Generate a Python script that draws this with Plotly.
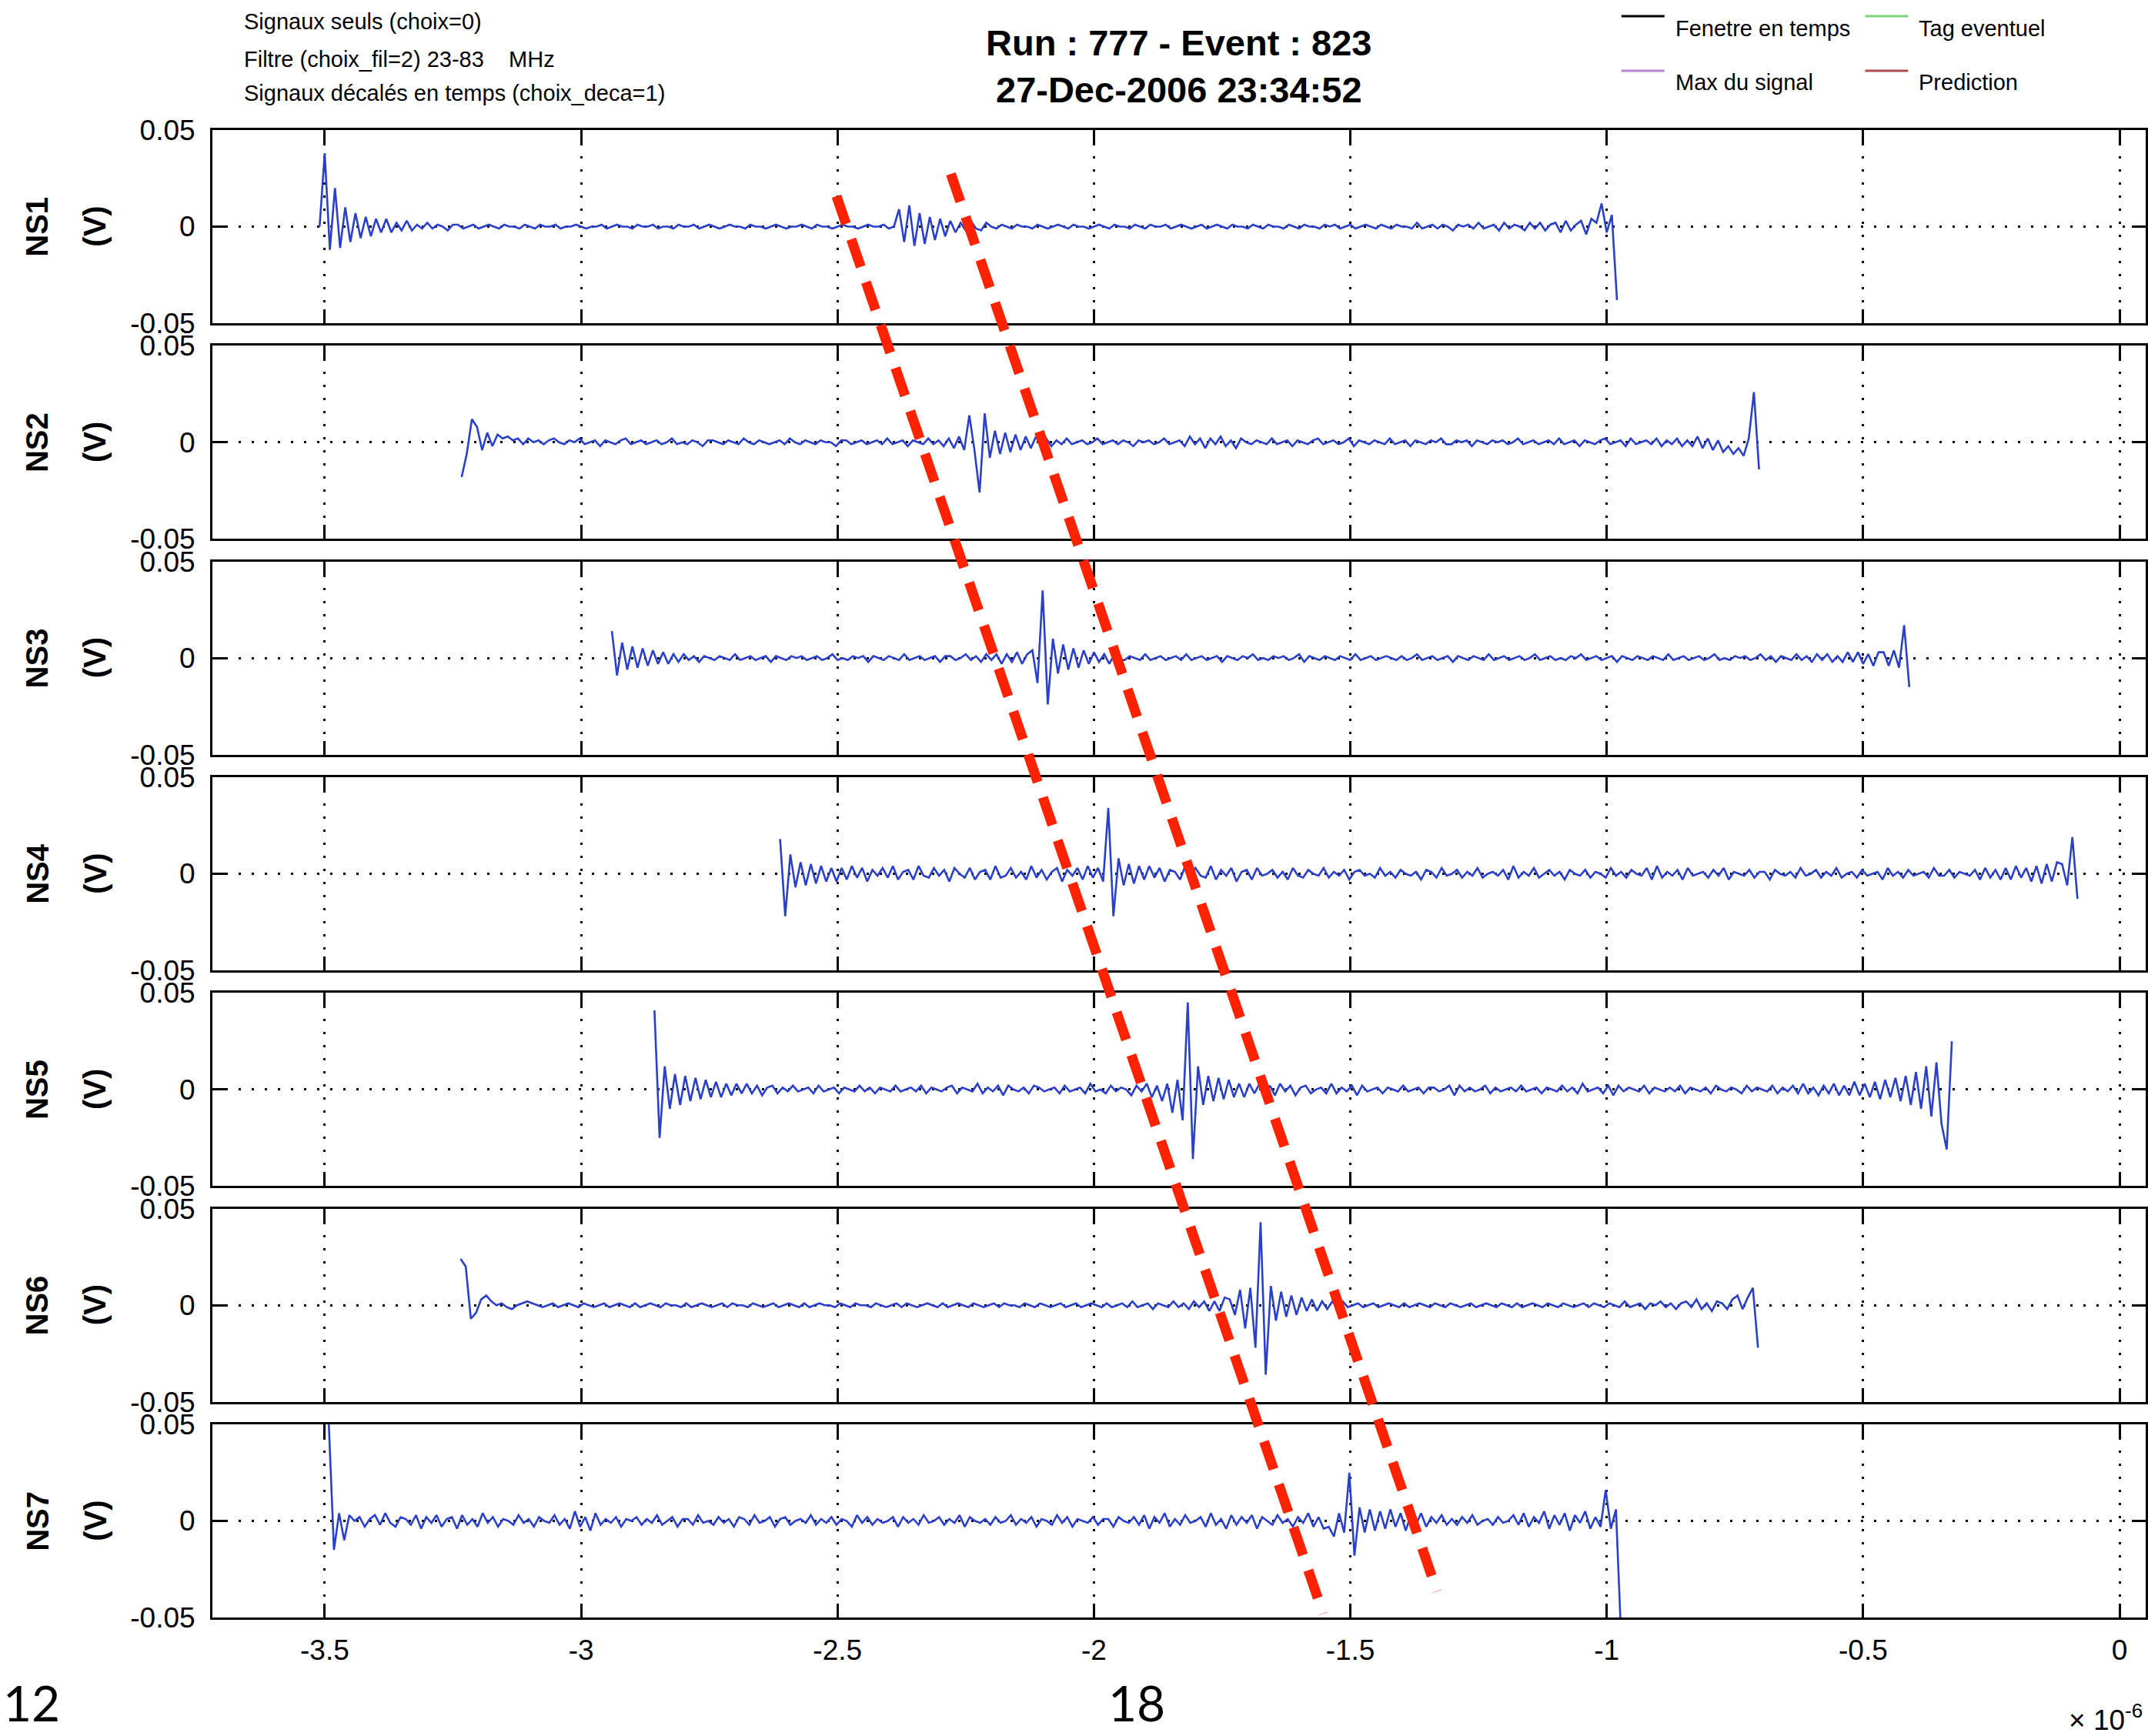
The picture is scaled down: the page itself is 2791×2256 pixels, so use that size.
import plotly.graph_objects as go
from plotly.subplots import make_subplots

# ---------------- data ----------------
channels = ["NS1", "NS2", "NS3", "NS4", "NS5", "NS6", "NS7"]
start_us = [-3.510, -3.233, -2.940, -2.612, -2.857, -3.235, -3.502]   # window start (x 1e-6 s)
step_us = 0.01                                                        # sample step (x 1e-6 s)

ns1_mV = [0, 38, -12, 20, -11, 10, -8, 7, -6, 5, -5, 4, -3, 4, -3, 2, -2, 3, -2, 1,
          -1, 2, -1, 1, 0, -2, 1, 1, -1, 0, 1, -1, 0, 1, 0, -1, 1, 0, 0, -1,
          1, 0, -1, 1, 0, 0, 1, -1, 0, 0, 1, 0, -1, 0, 0, 1, -1, 0, 1, 0,
          0, -1, 1, 0, 0, 1, -1, 0, 0, -1, 1, 0, 0, 1, -1, 0, 1, 0, -1, 0,
          1, 0, 0, -1, 1, 0, 0, -1, 0, 1, 0, -1, 0, 0, 1, 0, -1, 1, 0, 0,
          -1, 0, 1, 0, 0, -1, 0, 1, 0, 0, 1, -1, 0, 9, -8, 11, -10, 7, -9, 5,
          -7, 4, -5, 3, -3, 2, -2, 3, -1, -2, 2, 0, -1, 1, 0, -1, 1, 0, 0, -1,
          1, 0, -1, 0, 1, 0, -1, 1, 0, 0, -1, 0, 1, 0, -1, 1, 0, 0, -1, 1,
          0, -1, 1, 0, 0, 1, -1, 0, 1, 0, -1, 0, 1, -1, 0, 1, 0, -1, 1, 0,
          0, -1, 1, 0, -1, 1, 0, 0, -1, 1, 0, -1, 1, 0, 0, -1, 1, 0, 1, -1,
          0, 1, -1, 0, 1, 0, -1, 1, 0, -1, 1, 0, 0, -1, 2, -1, 0, 1, -1, 1,
          0, -2, 1, 0, 1, -1, 2, -1, 0, 1, -2, 2, -1, 1, 0, -2, 2, -1, 2, -2,
          1, 2, -3, 3, -2, 1, 3, -4, 4, 2, 12, -3, 6, -38]

ns2_mV = [-18, -6, 12, 8, -4, 5, -2, 4, 2, 3, 1, 2, -1, 2, 0, 1, -1, 1, 2, 0,
          -1, 1, 0, 2, -1, 0, 1, -2, 1, 0, -1, 1, 2, -1, 0, 1, -1, 0, 1, -1,
          0, 2, -1, 0, -1, 1, 0, -2, 1, 1, 0, -1, 1, 0, -1, 2, 0, -1, 1, 0,
          -1, 0, 1, -1, 2, 0, -1, 1, 0, -1, 1, 0, 0, -2, 1, 1, -1, 0, 1, -1,
          0, 1, -1, 2, -1, 0, 1, -2, 1, 0, -1, 2, -1, 1, -2, 2, -3, 3, -4, 14,
          -4, -26, 15, -8, 6, -6, 5, -5, 4, -4, 3, -3, 3, -2, 2, -2, 1, -1, 2, -1,
          0, 1, -1, 0, 2, -1, 0, 1, -1, 1, 0, -2, 1, 0, 1, -1, 0, 2, -1, 0,
          1, -2, 3, -1, 2, -3, 2, -1, 3, -2, 1, -3, 2, 0, -1, 1, 0, -1, 2, -1,
          0, 1, -2, 1, 0, -1, 1, 2, -1, 0, 1, -1, 0, 2, -2, 1, 0, -1, 1, 0,
          -1, 2, -1, 0, 1, -2, 1, 0, -1, 1, 0, 2, -1, -1, 1, 0, 1, -2, 1, 0,
          -1, 1, 0, 1, -1, 0, 2, -1, 0, 1, -1, 0, 1, -1, 2, -1, 0, 1, -2, 1,
          0, -1, 1, 2, -1, 0, 1, -2, 2, -1, 0, 1, -1, 2, -2, 1, -1, 2, -2, 1,
          -2, 3, -3, 2, -4, 1, -5, -2, -6, -3, -7, 2, 26, -14]

ns3_mV = [14, -9, 8, -6, 6, -5, 5, -4, 4, -3, 3, -3, 2, -2, 2, -1, 1, -2, 1, 0,
          -1, 1, 0, -1, 2, -1, 0, 1, -1, 0, 1, -2, 1, 0, -1, 1, 0, 1, -1, 0,
          1, -1, 0, 2, -1, 0, -1, 1, 0, 1, -2, 1, 0, -1, 1, 0, -1, 2, -1, 0,
          1, -1, 0, 1, -2, 1, 1, -1, 0, 2, -1, 1, -2, 2, -1, 2, -3, 2, -2, 3,
          -3, 2, 4, -13, 35, -24, 10, -8, 7, -6, 5, -5, 4, -3, 3, -2, 2, -3, 2, -1,
          -1, 1, 0, -1, 2, -1, 0, 1, -1, 0, 1, -1, 2, -1, 0, 1, -1, 0, 1, -2,
          1, 0, -1, 1, 0, 2, -1, 0, -1, 1, 0, 1, -1, 0, 2, -2, 1, 0, -1, 1,
          0, -1, 1, 0, -1, 2, -1, 0, 1, -1, 0, 1, 0, -1, 1, -1, 0, 2, -1, 0,
          1, -1, 0, 1, -2, 1, 0, -1, 1, 0, -1, 2, -1, 0, 1, -1, 0, 1, -1, 0,
          2, -1, 0, 1, -1, 0, -1, 1, 0, 2, -1, 0, 1, -1, 0, 1, -2, 1, 0, -1,
          1, 0, -1, 1, 0, -1, 2, -1, 0, 1, -1, 0, 1, -1, 0, 2, -1, 0, -1, 1,
          0, 1, -1, 0, 2, -1, 1, -2, 1, 0, -1, 2, -1, 1, -2, 2, -1, 2, -2, 1,
          -2, 3, -2, 3, -3, 2, -4, 3, 3, -4, 4, -5, 17, -15]

ns4_mV = [18, -22, 10, -7, 6, -6, 5, -5, 4, -4, 3, -4, 3, -3, 4, -2, 3, -4, 2, -1,
          3, -2, 4, -3, 1, 2, -3, 4, -1, -2, 3, -1, 2, -4, 3, 0, -2, 3, -3, 1,
          2, -3, 4, -2, -1, 3, -2, 1, -3, 4, -2, 2, -3, 1, 3, -4, 2, -1, 3, -3,
          4, -2, 3, -4, 34, -22, 8, -6, 5, -5, 4, -3, 4, -2, 3, -4, 2, 1, -3, 4,
          -2, 3, -1, -2, 4, -3, 2, -1, 3, -4, 1, 2, -3, 3, -1, 0, 2, -2, 1, -3,
          3, -1, -2, 2, 0, -1, 3, -2, 1, -1, 2, -3, 1, 2, -1, 0, -2, 3, -1, 1,
          -2, 2, 0, -1, 1, -3, 2, 1, -2, 3, -1, 0, 2, -2, 1, -1, 3, -2, 0, 1,
          -1, 2, -3, 4, -2, 1, -1, 3, -2, 0, 2, -1, 1, -3, 2, 0, -1, 2, -2, 1,
          0, -2, 3, -1, 1, -2, 2, 0, -1, 3, -3, 4, -2, 1, -1, 2, -3, 3, -1, 0,
          1, -2, 2, -1, 3, -3, 1, 0, -1, 2, -2, 1, 1, -3, 2, 0, -1, 1, -2, 3,
          -1, 0, 2, -2, 1, -1, 3, -2, 0, 1, -2, 2, -1, 0, 1, -3, 3, -1, 1, -2,
          2, -1, 0, 1, -2, 3, -1, -1, 2, -2, 1, 0, -1, 2, -3, 3, -2, 2, -3, 3,
          -3, 4, -2, 3, -4, 4, -5, 5, -4, 6, 5, -6, 19, -13]

ns5_mV = [41, -25, 12, -10, 8, -8, 7, -6, 6, -5, 5, -4, 4, -4, 3, -3, 3, -2, 3, -2,
          2, -3, 1, 2, -2, 1, -1, 2, -1, 0, 1, -2, 2, -1, 0, 1, -2, 1, 0, -1,
          2, -1, 1, -2, 1, 0, -1, 2, -1, 0, 1, -1, 2, -2, 1, 0, -1, 1, 2, -2,
          1, 0, -1, 3, -2, 1, -1, 2, -3, 2, 0, -1, 1, -2, 2, 1, -1, 0, 1, -2,
          2, -1, 0, 1, -2, 3, -1, 0, -2, 2, -1, 1, 0, -3, 2, -1, 3, -4, 2, -6,
          3, -12, 5, -16, 45, -36, 12, -8, 7, -6, 6, -5, 5, -4, 3, -4, 3, -2, 3, -3,
          2, -3, 3, -1, 2, -3, 1, 2, -2, 0, 1, -2, 3, -2, 1, -1, 2, -3, 2, -1,
          0, 1, -2, 1, 0, -1, 2, -1, 0, 1, -2, 1, 1, -1, 0, 2, -3, 2, -1, 1,
          -1, 0, 2, -2, 1, -1, 0, 1, -1, 2, -1, 0, 1, -2, 1, 0, -1, 2, -1, 1,
          -2, 3, -1, 0, 1, -2, 2, -3, 2, -1, 1, 0, -1, 2, -2, 1, 0, -1, 1, -1,
          2, -2, 1, 0, -1, 1, -2, 2, 0, -1, 1, 0, -2, 2, -1, 1, 0, -1, 2, -2,
          1, -1, 2, -2, 3, -2, 1, -3, 2, -2, 3, -3, 2, -3, 4, -3, 3, -4, 4, -5,
          5, -4, 6, -6, 7, -8, 9, -10, 12, -14, 14, -18, -31, 25]

ns6_mV = [24, 20, -7, -4, 3, 5, 2, 0, 1, -1, -2, 0, 1, 2, 1, 0, -1, 0, 1, -1,
          0, 1, 0, -1, 1, 0, -1, 0, 1, -1, 0, 1, 0, -1, 1, -1, 0, 1, 0, -1,
          1, 0, 0, -1, 1, -1, 0, 1, 0, -1, 0, 1, -1, 1, 0, 0, -1, 1, 0, -1,
          0, 1, -1, 0, 1, 0, -1, 1, -1, 0, 1, 0, 0, -1, 1, 0, -1, 1, 0, 0,
          -1, 1, 0, -1, 0, 1, -1, 1, 0, -1, 0, 1, 0, -1, 1, -1, 0, 1, 0, -1,
          1, 0, -1, 0, 1, -1, 1, 0, 0, -1, 1, 0, -1, 1, 0, -1, 0, 1, -1, 0,
          1, -1, 0, 1, 0, -1, 1, -1, 0, 1, -1, 2, -1, 0, 1, -2, 1, 0, -1, 2,
          -1, 1, -2, 2, -1, 2, -3, 2, -3, 4, 3, -5, 8, -12, 9, -22, 43, -36, 10, -8,
          7, -6, 5, -5, 4, -3, 3, -3, 2, -2, 2, -1, 2, -1, 0, 1, -1, 0, 1, -1,
          0, 1, 0, -1, 1, -1, 0, 1, 0, -1, 1, 0, -1, 1, 0, -1, 0, 1, -1, 0,
          1, 0, -1, 1, 0, -1, 1, -1, 0, 1, 0, -1, 1, 0, -1, 1, 0, -1, 0, 1,
          -1, 1, 0, -1, 1, 0, -1, 2, -1, 0, 1, -2, 1, 0, 2, -1, 1, -2, 1, 2,
          -1, 3, -2, 1, -3, 2, 1, -2, 3, 5, -2, 4, 9, -22]

ns7_mV = [60, 50, -15, 4, -10, 3, 0, 2, -3, 1, 3, -2, 4, -1, -3, 2, 1, -2, 3, -4,
          2, -1, 3, -3, 1, 2, -4, 3, -2, 1, -3, 4, -1, 2, -3, 1, 0, -2, 3, -1,
          1, -3, 2, 0, -1, 3, -2, 1, -4, 5, -3, 2, -5, 4, -2, 1, -1, 2, -3, 1,
          0, 2, -2, 1, -1, 3, -2, 0, 2, -3, 1, 1, -2, 3, -1, 0, -2, 2, -1, 1,
          -3, 2, 1, -2, 3, -1, 0, 2, -3, 1, 2, -2, 0, 1, -1, 3, -2, 1, -1, 2,
          -2, 1, 0, -3, 3, -1, 2, -2, 1, -1, 0, 2, -3, 2, -1, 1, -2, 3, -1, 0,
          2, -2, 1, -1, 3, -3, 2, 0, -1, 1, -2, 2, -1, 0, 3, -2, 1, -1, 2, -3,
          1, 0, -2, 3, -1, 2, -3, 1, 0, -1, 2, -2, 1, 1, -3, 2, 0, -1, 2, -2,
          3, -4, 2, -1, 4, -3, 1, -2, 3, -1, 0, 2, -3, 4, -2, 1, -4, 3, -2, 2,
          -1, 3, -4, 2, 0, -2, 3, -1, 1, -3, 2, -1, 4, -3, 2, -4, -3, -8, 4, -6,
          25, -18, 7, -6, 6, -5, 5, -4, 6, -3, 4, -5, 3, -2, 4, -3, 2, -1, 3, -2,
          1, -2, 2, -1, 3, -2, 0, 1, -2, 2, -1, 0, 3, -2, 4, -3, 2, -1, 5, -4,
          3, -2, 4, -5, 3, -1, 5, -4, 2, -3, 16, -4, 6, -60]

signals_mV = [ns1_mV, ns2_mV, ns3_mV, ns4_mV, ns5_mV, ns6_mV, ns7_mV]

x_range = [-3.719, 0.051]
xtick_vals = [-3.5, -3.0, -2.5, -2.0, -1.5, -1.0, -0.5, 0.0]
xtick_text = ["-3.5", "-3", "-2.5", "-2", "-1.5", "-1", "-0.5", "0"]
y_range = [-0.05, 0.05]
ytick_vals = [-0.05, 0.0, 0.05]
ytick_text = ["-0.05", "0", "0.05"]

info_lines = ["Signaux seuls (choix=0)",
              "Filtre (choix_fil=2) 23-83\u00a0\u00a0\u00a0\u00a0MHz",
              "Signaux décalés en temps (choix_deca=1)"]
title_lines = ["Run : 777 - Event : 823", "27-Dec-2006 23:34:52"]
legend_names = ["Fenetre en temps", "Tag eventuel", "Max du signal", "Prediction"]
legend_colors = ["#000000", "#7fd27f", "#b982d6", "#b04c4c"]

# ---------------- geometry ----------------
W, H = 2791, 2256
L, R, T, B = 276, 0, 169, 154
FONT = "Liberation Sans, Arial, sans-serif"


def px_x(p):
    return (p - L) / (W - L - R)


def px_y(p):
    return (H - B - p) / (H - T - B)


fig = make_subplots(rows=7, cols=1, shared_xaxes=True, vertical_spacing=0.0152)

for k, (t0, vals) in enumerate(zip(start_us, signals_mV), start=1):
    t = [t0 + step_us * i for i in range(len(vals))]
    v = [m / 1000.0 for m in vals]
    fig.add_trace(go.Scatter(x=t, y=v, mode="lines",
                             line=dict(color="#2b40c8", width=2.6),
                             showlegend=False, hoverinfo="skip"),
                  row=k, col=1)

axis_common = dict(showline=True, linecolor="black", linewidth=3, mirror="ticks",
                   ticks="inside", ticklen=18, tickwidth=3, tickcolor="black",
                   showgrid=True, gridcolor="black", gridwidth=2.5, griddash="3px,14px",
                   zeroline=False,
                   tickfont=dict(family=FONT, size=37, color="black"))

fig.update_xaxes(range=x_range, tickvals=xtick_vals, ticktext=xtick_text,
                 ticklabelstandoff=8, **axis_common)
fig.update_yaxes(range=y_range, tickvals=ytick_vals, ticktext=ytick_text,
                 ticklabelstandoff=12, **axis_common)

annotations = []
# channel labels
for k, name in enumerate(channels, start=1):
    dom = fig.layout["yaxis" if k == 1 else f"yaxis{k}"].domain
    yc = (dom[0] + dom[1]) / 2
    annotations.append(dict(text=f"<b>{name}</b>", x=px_x(48), y=yc, xref="paper", yref="paper",
                            textangle=-90, showarrow=False, xanchor="center", yanchor="middle",
                            font=dict(family=FONT, size=40, color="black")))
    annotations.append(dict(text="<b>(V)</b>", x=px_x(123), y=yc, xref="paper", yref="paper",
                            textangle=-90, showarrow=False, xanchor="center", yanchor="middle",
                            font=dict(family=FONT, size=40, color="black")))

# info text (top left)
for line, ypx in zip(info_lines, [28, 77, 121]):
    annotations.append(dict(text=line, x=px_x(315), y=px_y(ypx), xref="paper", yref="paper",
                            showarrow=False, xanchor="left", yanchor="middle",
                            font=dict(family=FONT, size=29, color="black")))

# title
for line, ypx in zip(title_lines, [55, 116]):
    annotations.append(dict(text=f"<b>{line}</b>", x=px_x(1533), y=px_y(ypx), xref="paper", yref="paper",
                            showarrow=False, xanchor="center", yanchor="middle",
                            font=dict(family=FONT, size=47, color="black")))

# legend (two columns)
shapes = []
leg_pos = [(2109, 21, 37), (2426, 21, 37), (2109, 92, 107), (2426, 92, 107)]
for name, col, (lx, ly, ty) in zip(legend_names, legend_colors, leg_pos):
    shapes.append(dict(type="line", xref="paper", yref="paper",
                       x0=px_x(lx), x1=px_x(lx + 56), y0=px_y(ly), y1=px_y(ly),
                       line=dict(color=col, width=3)))
    annotations.append(dict(text=name, x=px_x(lx + 68), y=px_y(ty), xref="paper", yref="paper",
                            showarrow=False, xanchor="left", yanchor="middle",
                            font=dict(family=FONT, size=29, color="black")))

# x-axis exponent
annotations.append(dict(text="× 10<sup>-6</sup>", x=px_x(2789), y=px_y(2232), xref="paper", yref="paper",
                        showarrow=False, xanchor="right", yanchor="middle",
                        font=dict(family=FONT, size=37, color="black")))

# page numbers under the chart
for txt, xpx, anchor in zip(["12", "18"], [2, 1478], ["left", "center"]):
    annotations.append(dict(text=txt, x=px_x(xpx), y=px_y(2212), xref="paper", yref="paper",
                            showarrow=False, xanchor=anchor, yanchor="middle",
                            font=dict(family="Lato, Open Sans, sans-serif", size=64, color="black")))

# red dashed guide lines drawn over the traces (x in axis units, y in paper)
guides = [(-2.502, 255, -1.553, 2097), (-2.279, 226, -1.331, 2068)]
for gx0, gy0, gx1, gy1 in guides:
    shapes.append(dict(type="line", xref="x7", yref="paper",
                       x0=gx0, x1=gx1, y0=px_y(gy0), y1=px_y(gy1),
                       line=dict(color="#ff2200", width=13, dash="38px,21px"),
                       layer="above"))

fig.update_layout(width=W, height=H, autosize=False,
                  margin=dict(l=L, r=R, t=T, b=B, pad=0),
                  paper_bgcolor="white", plot_bgcolor="white",
                  showlegend=False, annotations=annotations, shapes=shapes,
                  font=dict(family=FONT, color="black"))

fig.write_html("out.html")
